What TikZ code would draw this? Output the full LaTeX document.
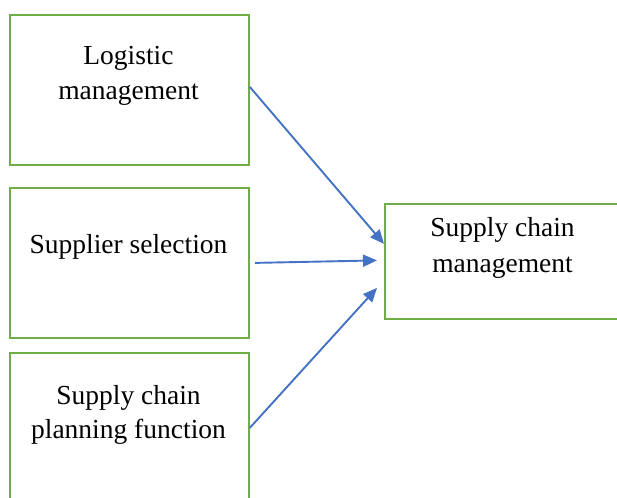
\documentclass[tikz,border=0pt]{standalone}
\usepackage{fontspec}
\setmainfont{Liberation Serif}
\usetikzlibrary{arrows.meta}
\definecolor{boxgreen}{HTML}{70AD47}
\definecolor{arrowblue}{HTML}{4472C4}
\begin{document}
\begin{tikzpicture}[x=1pt,y=-1pt,
  box/.style={draw=boxgreen,line width=1.8pt,minimum width=239pt,minimum height=150pt,inner sep=0pt,anchor=north west},
  label/.style={font=\fontsize{27.5}{35}\selectfont,anchor=base,inner sep=0pt,text=black},
  link/.style={draw=arrowblue,line width=1.9pt,-{Triangle[length=14pt,width=12pt]}}]
\useasboundingbox (0,0) rectangle (617,497);
\clip (0,0) rectangle (617,497);
% input boxes
\node[box] (b1) at (9,14) {};
\node[box] (b2) at (9,187) {};
\node[box] (b3) at (9,352) {};
% result box
\node[box,minimum width=240pt,minimum height=115pt] (sc) at (384,203) {};
% labels
\node[label] (t1a) at (128.5,65) {Logistic};
\node[label] (t1b) at (128.5,100) {management};
\node[label] (t2) at (128.5,253) {Supplier selection};
\node[label] (t3a) at (128.5,404) {Supply chain};
\node[label] (t3b) at (128.5,438) {planning function};
\node[label] (t4a) at (502.5,236) {Supply chain};
\node[label] (t4b) at (502.5,272) {management};
% connectors
\draw[link] ([yshift=3pt]b1.east) -- ([yshift=17.5pt]sc.west);
\draw[link] ([xshift=5pt]b2.east) -- ([xshift=-7pt,yshift=1pt]sc.west);
\draw[link] (b3.east) -- ([xshift=-7pt,yshift=-26.5pt]sc.west);
\end{tikzpicture}
\end{document}
